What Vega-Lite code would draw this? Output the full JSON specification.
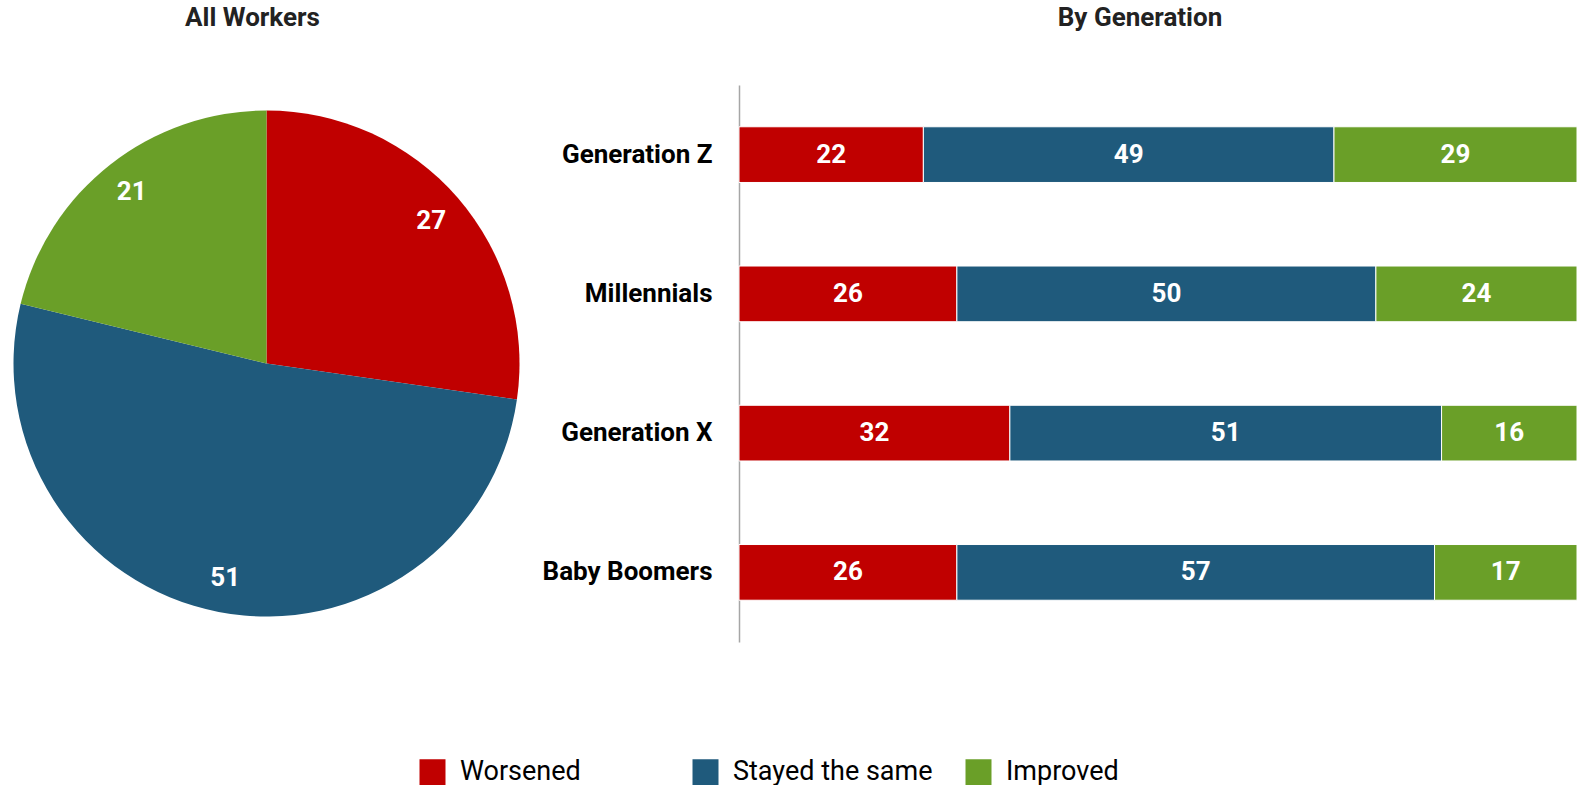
{
  "$schema": "https://vega.github.io/schema/vega-lite/v6.json",
  "padding": {"top": 5, "left": 0, "right": 0, "bottom": 0},
  "background": "white",
  "datasets": {
    "all": [
      {"response": "Worsened", "value": 27},
      {"response": "Stayed the same", "value": 51},
      {"response": "Improved", "value": 21}
    ],
    "gen": [
      {"generation": "Generation Z", "response": "Worsened", "value": 22},
      {"generation": "Generation Z", "response": "Stayed the same", "value": 49},
      {"generation": "Generation Z", "response": "Improved", "value": 29},
      {"generation": "Millennials", "response": "Worsened", "value": 26},
      {"generation": "Millennials", "response": "Stayed the same", "value": 50},
      {"generation": "Millennials", "response": "Improved", "value": 24},
      {"generation": "Generation X", "response": "Worsened", "value": 32},
      {"generation": "Generation X", "response": "Stayed the same", "value": 51},
      {"generation": "Generation X", "response": "Improved", "value": 16},
      {"generation": "Baby Boomers", "response": "Worsened", "value": 26},
      {"generation": "Baby Boomers", "response": "Stayed the same", "value": 57},
      {"generation": "Baby Boomers", "response": "Improved", "value": 17}
    ]
  },
  "bounds": "flush",
  "spacing": 206,
  "resolve": {"legend": {"color": "independent"}},
  "hconcat": [
    {
      "data": {"name": "all"},
      "width": 533,
      "height": 557,
      "title": {"text": "All Workers", "dx": -14},
      "layer": [
        {
          "mark": {"type": "arc", "outerRadius": 253},
          "encoding": {
            "theta": {"field": "value", "type": "quantitative", "stack": true},
            "color": {
              "field": "response",
              "type": "nominal",
              "scale": {"domain": ["Worsened", "Stayed the same", "Improved"], "range": ["#C00000", "#1F5A7C", "#6A9F28"]},
              "legend": {"title": null, "orient": "none", "legendX": 419, "legendY": 673.5, "direction": "horizontal", "columns": 3}
            },
            "order": {"field": "response", "sort": "descending"}
          }
        },
        {
          "mark": {"type": "text", "radius": 218, "font": "Roboto", "fontSize": 26, "fontWeight": "bold", "align": "center", "baseline": "middle"},
          "encoding": {
            "theta": {"field": "value", "type": "quantitative", "stack": true},
            "detail": {"field": "response", "type": "nominal"},
            "order": {"field": "response", "sort": "descending"},
            "text": {"field": "value", "type": "quantitative"},
            "color": {"value": "white"}
          }
        }
      ]
    },
    {
      "data": {"name": "gen"},
      "width": 838,
      "height": 557,
      "title": {"text": "By Generation", "dx": -18},
      "encoding": {
        "y": {
          "field": "generation",
          "type": "nominal",
          "sort": null,
          "scale": {"paddingInner": 0.6, "paddingOuter": 0.3},
          "axis": {"title": null, "ticks": false, "grid": false, "domainColor": "#A6A6A6", "domainWidth": 1.5, "labelFont": "Roboto", "labelFontSize": 26, "labelFontWeight": "bold", "labelColor": "black", "labelPadding": 27, "labelLimit": 400}
        }
      },
      "layer": [
        {
          "mark": {"type": "bar", "stroke": "white", "strokeWidth": 1},
          "encoding": {
            "x": {"field": "value", "type": "quantitative", "stack": "normalize", "axis": null, "scale": {"nice": false}},
            "color": {
              "field": "response",
              "type": "nominal",
              "scale": {"domain": ["Worsened", "Stayed the same", "Improved"], "range": ["#C00000", "#1F5A7C", "#6A9F28"]},
              "legend": null
            },
            "order": {"field": "response", "sort": "descending"}
          }
        },
        {
          "mark": {"type": "text", "font": "Roboto", "fontSize": 26, "fontWeight": "bold", "align": "center", "baseline": "middle"},
          "encoding": {
            "x": {"field": "value", "type": "quantitative", "stack": "normalize", "bandPosition": 0.5},
            "detail": {"field": "response", "type": "nominal"},
            "order": {"field": "response", "sort": "descending"},
            "text": {"field": "value", "type": "quantitative"},
            "color": {"value": "white"}
          }
        }
      ]
    }
  ],
  "config": {
    "view": {"stroke": null},
    "title": {"font": "Roboto", "fontSize": 26, "fontWeight": "bold", "color": "#222222", "anchor": "middle", "frame": "group", "offset": 54},
    "legend": {
      "labelFont": "Roboto",
      "labelFontSize": 27,
      "labelColor": "black",
      "labelOffset": 14,
      "labelLimit": 400,
      "symbolType": "square",
      "symbolSize": 676,
      "symbolStrokeWidth": 0,
      "symbolOpacity": 1,
      "columnPadding": 32,
      "gridAlign": "all",
      "padding": 0
    }
  }
}
